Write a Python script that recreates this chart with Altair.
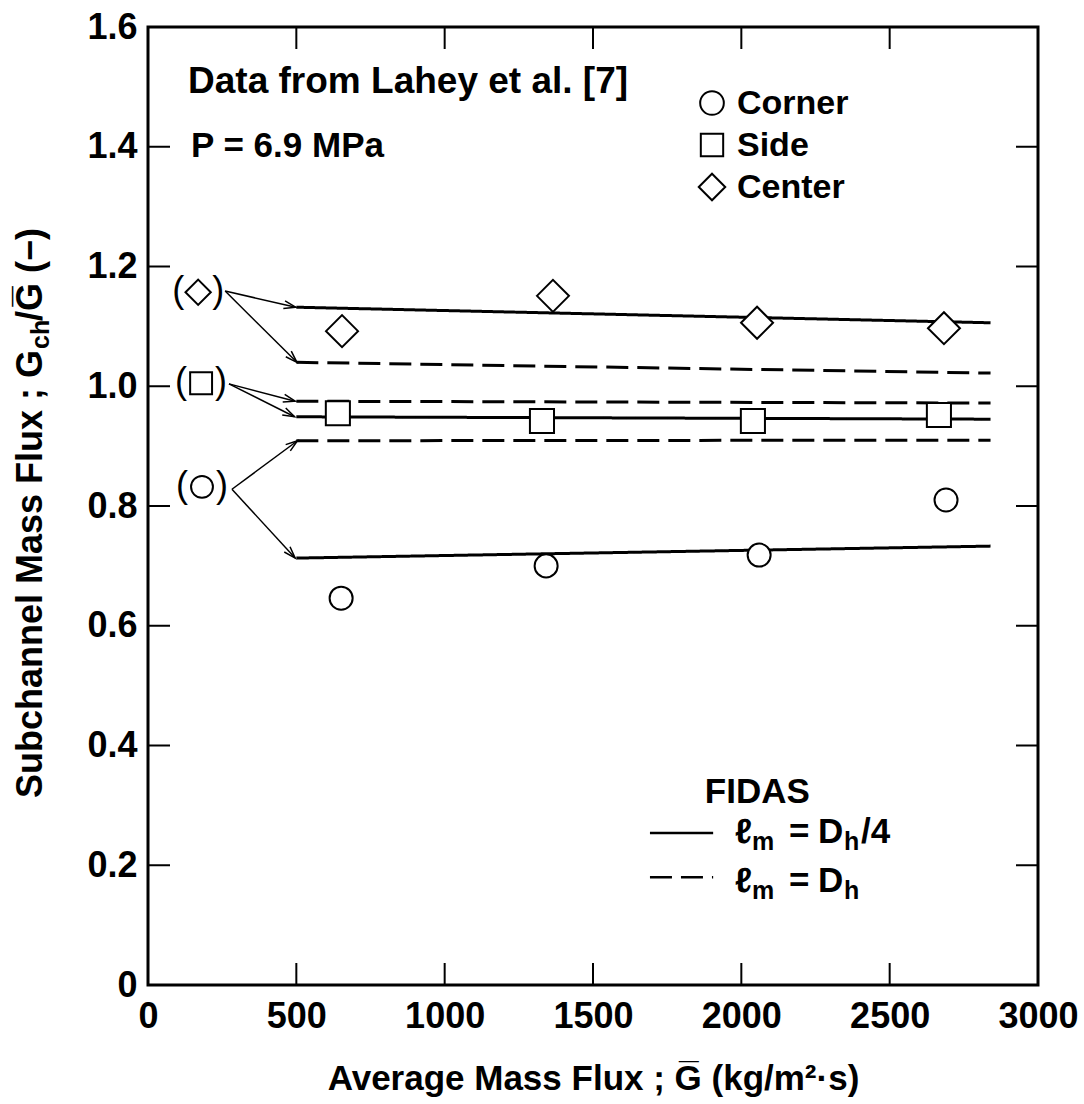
import math
import altair as alt
import pandas as pd

FONT = "Liberation Sans"
W, H = 890, 958
X_DOM = [0, 3000]
Y_DOM = [0, 1.6]
SX = W / (X_DOM[1] - X_DOM[0])
SY = H / (Y_DOM[1] - Y_DOM[0])

# ---------------- data ----------------
subchannels = ["Corner", "Side", "Center"]
shapes = ["circle", "square", "diamond"]
marker_sizes = [530, 580, 1024]
legend_sizes = [560, 500, 700]

corner_g = [651, 1342, 2060, 2690]
corner_v = [0.646, 0.700, 0.718, 0.810]
side_g = [640, 1328, 2039, 2666]
side_v = [0.955, 0.942, 0.942, 0.952]
center_g = [654, 1365, 2053, 2683]
center_v = [1.092, 1.151, 1.106, 1.097]

# FIDAS predictions (straight lines from G=500 to the right end)
line_g_start = 500
line_g_end = 2840
line_series = ["Center", "Center", "Side", "Side", "Corner", "Corner"]
line_mixing = ["Dh/4", "Dh", "Dh", "Dh/4", "Dh", "Dh/4"]
line_v_start = [1.132, 1.040, 0.975, 0.949, 0.909, 0.713]
line_v_end = [1.106, 1.022, 0.972, 0.945, 0.910, 0.733]

# parenthesised keys on the left and their arrows
key_shape = ["diamond", "square", "circle"]
key_sizes = [640, 480, 480]
key_g = [169, 179, 182]
key_v = [1.157, 1.005, 0.832]
arrow_g1 = [260, 260, 273, 273, 283, 283]
arrow_v1 = [1.159, 1.159, 1.004, 1.004, 0.828, 0.828]
arrow_g2 = [498, 502, 496, 494, 504, 496]
arrow_v2 = line_v_start

x_ticks = [500, 1000, 1500, 2000, 2500]
y_ticks = [0.2, 0.4, 0.6, 0.8, 1.0, 1.2, 1.4]
x_labels = [0, 500, 1000, 1500, 2000, 2500, 3000]
y_labels = [0, 0.2, 0.4, 0.6, 0.8, 1.0, 1.2, 1.4, 1.6]

# ---------------- tables ----------------
pts = pd.DataFrame({
    "g": corner_g + side_g + center_g,
    "v": corner_v + side_v + center_v,
    "sub": ["Corner"] * 4 + ["Side"] * 4 + ["Center"] * 4,
})
lines = pd.DataFrame({
    "g": [line_g_start, line_g_end] * 6,
    "v": [val for pair in zip(line_v_start, line_v_end) for val in pair],
    "id": [i for i in range(6) for _ in range(2)],
    "mix": [m for m in line_mixing for _ in range(2)],
})
keys = pd.DataFrame({"g": key_g, "v": key_v, "shape": key_shape})
arrows = pd.DataFrame({"g": arrow_g1, "v": arrow_v1, "g2": arrow_g2, "v2": arrow_v2})
arrows["ang"] = [
    (math.degrees(math.atan2((b - a) * SX, (d - c) * SY)) + 360) % 360
    for a, b, c, d in zip(arrow_g1, arrow_g2, arrow_v1, arrow_v2)
]
xt = pd.DataFrame({"g": x_ticks})
yt = pd.DataFrame({"v": y_ticks})

xs = alt.Scale(domain=X_DOM, nice=False, zero=False)
ys = alt.Scale(domain=Y_DOM, nice=False, zero=False)
X_TITLE = "Average Mass Flux ; G\u0305 (kg/m\u00b2\u00b7s)"
x_axis = alt.Axis(values=x_labels, format="d", ticks=False, domain=False, grid=False,
                  labelFont=FONT, labelFontSize=36, labelFontWeight="bold", labelPadding=14,
                  labelColor="black", titleFont=FONT, titleFontSize=35, titleFontWeight="bold",
                  titleColor="black", titleY=104, titleBaseline="alphabetic", labelFlush=False)
y_axis = alt.Axis(values=y_labels, ticks=False, domain=False, grid=False,
                  labelExpr="datum.value == 0 ? '0' : format(datum.value, '.1f')",
                  labelFont=FONT, labelFontSize=36, labelFontWeight="bold", labelPadding=11,
                  labelColor="black", labelFlush=False)


def X(field="g"):
    return alt.X(f"{field}:Q", scale=xs, axis=x_axis, title=X_TITLE)


def Y(field="v"):
    return alt.Y(f"{field}:Q", scale=ys, axis=y_axis, title=None)


base_lines = alt.Chart(lines).mark_line(color="black", strokeWidth=3).encode(
    x=X(), y=Y(), detail="id:N",
    strokeDash=alt.StrokeDash("mix:N", scale=alt.Scale(domain=["Dh/4", "Dh"], range=[[1, 0], [22, 9]]),
                              legend=None),
)

point_layers = []
for name, shp, msize in zip(subchannels, shapes, marker_sizes):
    point_layers.append(
        alt.Chart(pts[pts["sub"] == name]).mark_point(
            shape=shp, filled=True, fill="white", stroke="black", strokeWidth=2, size=msize, opacity=1
        ).encode(x=X(), y=Y())
    )

# symbol key (top right), drawn as marks in pixel layout
LEG_X, LEG_Y0, LEG_DY = 564, 76, 42
one = pd.DataFrame({"k": [0]})
legend_layers = []
for i, (name, shp, lsize) in enumerate(zip(subchannels, shapes, legend_sizes)):
    yy = LEG_Y0 + i * LEG_DY
    legend_layers.append(
        alt.Chart(one).mark_point(shape=shp, filled=True, fill="white", stroke="black", strokeWidth=2,
                                  size=lsize, opacity=1).encode(x=alt.value(LEG_X), y=alt.value(yy)))
    legend_layers.append(
        alt.Chart(one).mark_text(text=name, font=FONT, fontSize=34, fontWeight="bold", align="left",
                                 baseline="middle", color="black").encode(
            x=alt.value(LEG_X + 25), y=alt.value(yy + 1)))

key_layers = []
for shp, ksize in zip(key_shape, key_sizes):
    sub = keys[keys["shape"] == shp]
    key_layers.append(
        alt.Chart(sub).mark_point(shape=shp, filled=False, stroke="black", strokeWidth=2, size=ksize,
                                  opacity=1).encode(x=X(), y=Y())
    )
paren_l = alt.Chart(keys).mark_text(text="(", font=FONT, fontSize=36, dx=-20, baseline="middle", dy=-1,
                                     color="black").encode(x=X(), y=Y())
paren_r = alt.Chart(keys).mark_text(text=")", font=FONT, fontSize=36, dx=20, baseline="middle", dy=-1,
                                     color="black").encode(x=X(), y=Y())

arrow_lines = alt.Chart(arrows).mark_rule(color="black", strokeWidth=1.5).encode(
    x=X(), y=Y(), x2="g2:Q", y2="v2:Q")
arrow_heads = alt.Chart(arrows).mark_point(shape="M-0.33,1L0,0L0.33,1", size=560, stroke="black",
                                           strokeWidth=1.5, filled=False, opacity=1).encode(
    x=X("g2"), y=Y("v2"), angle=alt.Angle("ang:Q", scale=None))

TICK = 22
tick_b = alt.Chart(xt).mark_rule(color="black", strokeWidth=2).encode(x=X(), y=alt.value(H), y2=alt.value(H - TICK))
tick_t = alt.Chart(xt).mark_rule(color="black", strokeWidth=2).encode(x=X(), y=alt.value(0), y2=alt.value(TICK))
tick_l = alt.Chart(yt).mark_rule(color="black", strokeWidth=2).encode(y=Y(), x=alt.value(0), x2=alt.value(TICK))
tick_r = alt.Chart(yt).mark_rule(color="black", strokeWidth=2).encode(y=Y(), x=alt.value(W), x2=alt.value(W - TICK))

# ---------------- annotation texts ----------------
notes = pd.DataFrame({
    "g": [135, 145, 1877],
    "v": [1.490, 1.383, 0.304],
    "t": ["Data from Lahey et al. [7]", "P = 6.9 MPa", "FIDAS"],
    "fs": [37, 35, 35],
})
note_text = alt.Chart(notes).mark_text(font=FONT, fontWeight="bold", align="left",
                                       baseline="alphabetic", color="black").encode(
    x=X(), y=Y(), text="t:N", size=alt.Size("fs:Q", scale=None))

fidas_g = [1692, 1905]
fidas_v = [0.254, 0.180]
fidas_lines = pd.DataFrame({
    "g": fidas_g * 2,
    "v": [fidas_v[0], fidas_v[0], fidas_v[1], fidas_v[1]],
    "id": [0, 0, 1, 1],
    "mix": ["Dh/4", "Dh/4", "Dh", "Dh"],
})
fidas_line_marks = alt.Chart(fidas_lines).mark_line(color="black", strokeWidth=2.5).encode(
    x=X(), y=Y(), detail="id:N",
    strokeDash=alt.StrokeDash("mix:N", scale=alt.Scale(domain=["Dh/4", "Dh"], range=[[1, 0], [17, 5]]),
                              legend=None),
)

lab = pd.DataFrame({"g": [1979, 1979], "v": [0.237, 0.155], "rest": ["/4", ""]})


def piece(text, dx, size, dy=0):
    return alt.Chart(lab).mark_text(text=text, font=FONT, fontSize=size, fontWeight="bold", align="left",
                                    baseline="alphabetic", dx=dx, dy=dy, color="black").encode(x=X(), y=Y())


lab_l = piece("\u2113", 0, 35)
lab_m = piece("m", 17, 25, 7)
lab_eq = piece("=", 54, 35)
lab_d = piece("D", 83, 35)
lab_h = piece("h", 109, 25, 7)
lab_rest = alt.Chart(lab).mark_text(font=FONT, fontSize=35, fontWeight="bold", align="left",
                                    baseline="alphabetic", dx=126, color="black").encode(x=X(), y=Y(), text="rest:N")

# ---------------- rotated y title in pieces ----------------
YT_X = -106
YT_Y = 323
ytitle = pd.DataFrame({"k": [0]})


def ypiece(text, dx, size, align, dy=0):
    return alt.Chart(ytitle).mark_text(text=text, font=FONT, fontSize=size, fontWeight="bold", angle=270,
                                       align=align, baseline="alphabetic", dx=dx, dy=dy, color="black").encode(
        x=alt.value(YT_X), y=alt.value(YT_Y))


yt_a = ypiece("Subchannel Mass Flux ; G", 0, 36, "right")
yt_b = ypiece("ch", 1, 25, "left", 7)
yt_c = ypiece("/G\u0305 (\u2212)", 29, 36, "left")

chart = alt.layer(
    base_lines, arrow_lines, arrow_heads, *point_layers, *key_layers, *legend_layers, paren_l, paren_r,
    tick_b, tick_t, tick_l, tick_r, note_text, fidas_line_marks,
    lab_l, lab_m, lab_eq, lab_d, lab_h, lab_rest, yt_a, yt_b, yt_c,
).properties(
    width=W, height=H,
    autosize=alt.AutoSizeParams(type="none"),
    padding={"left": 148, "top": 27, "right": 46, "bottom": 119},
).configure(
    background="white",
    view=alt.ViewConfig(stroke="black", strokeWidth=3),
)

chart.save("out.html", embed_options={"renderer": "svg", "actions": False})
